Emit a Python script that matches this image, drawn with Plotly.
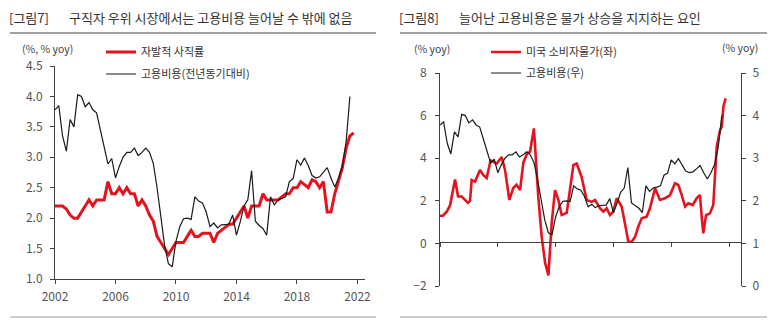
import plotly.graph_objects as go

W, H = 773, 323
def fx(px): return px / W
def fy(py): return 1 - py / H

FONT = "Noto Sans CJK KR"
RED = "#e5131d"
BLK = "#1a1a1a"
AX = "#404040"
TXT = "#555555"

# ---- data ----
# quarterly observations starting 2002Q1
eci_yoy = [3.78, 3.85, 3.35, 3.10, 3.62, 3.50, 4.03, 4.00, 3.83, 3.90, 3.78, 3.73,
           3.45, 3.15, 2.89, 2.98, 2.66, 2.85, 3.00, 3.08, 3.08, 3.15, 3.03, 3.08,
           3.15, 3.08, 2.90, 2.50, 2.00, 1.55, 1.25, 1.20, 1.62, 1.86, 1.99, 2.00,
           1.98, 2.35, 2.28, 2.25, 2.10, 1.86, 1.92, 1.84, 1.89, 1.90, 1.90, 2.05,
           1.72, 1.94, 2.20, 2.30, 2.78, 1.95, 1.88, 1.83, 1.72, 2.35, 2.22, 2.30,
           2.32, 2.35, 2.60, 2.65, 2.96, 2.87, 2.99, 2.86, 2.70, 2.66, 2.68, 2.75,
           2.83, 2.66, 2.51, 2.66, 2.85, 3.25, 4.00]
quit_rate = [2.2, 2.2, 2.2, 2.15, 2.05, 2.0, 2.0, 2.1, 2.2, 2.3, 2.2, 2.3,
             2.3, 2.3, 2.6, 2.4, 2.4, 2.5, 2.4, 2.5, 2.4, 2.4, 2.2, 2.3,
             2.2, 2.05, 1.95, 1.7, 1.6, 1.5, 1.4, 1.5, 1.6, 1.6, 1.6, 1.7,
             1.8, 1.7, 1.7, 1.75, 1.75, 1.75, 1.6, 1.75, 1.8, 1.85, 1.9, 1.9,
             2.0, 2.1, 2.2, 2.0, 2.2, 2.2, 2.2, 2.4, 2.3, 2.3, 2.3, 2.3,
             2.35, 2.4, 2.4, 2.5, 2.5, 2.6, 2.55, 2.5, 2.63, 2.6, 2.5, 2.6,
             2.1, 2.1, 2.4, 2.6, 2.83, 3.15, 3.35, 3.4]
quarters = [2002 + i / 4 for i in range(len(quit_rate))]

cpi_t = [2002.0, 2002.2, 2002.48, 2002.7, 2003.04, 2003.25, 2003.5, 2003.75, 2003.94, 2004.08,
         2004.19, 2004.42, 2004.77, 2005.0, 2005.23, 2005.5, 2005.74, 2005.92, 2006.27, 2006.5,
         2006.8, 2007.07, 2007.3, 2007.54, 2007.77, 2008.04, 2008.23, 2008.5, 2008.8, 2009.04,
         2009.27, 2009.5, 2009.73, 2009.96, 2010.19, 2010.42, 2010.77, 2011.0, 2011.23, 2011.46,
         2011.8, 2012.15, 2012.5, 2012.73, 2013.07, 2013.3, 2013.53, 2013.76, 2013.99, 2014.23,
         2014.57, 2014.8, 2015.03, 2015.27, 2015.5, 2015.72, 2015.96, 2016.3, 2016.53, 2016.88,
         2017.22, 2017.57, 2017.92, 2018.26, 2018.49, 2018.73, 2018.96, 2019.18, 2019.49, 2019.76,
         2019.99, 2020.11, 2020.22, 2020.41, 2020.68, 2020.91, 2021.03, 2021.15, 2021.38, 2021.5,
         2021.61, 2021.77]
cpi_yoy = [1.3, 1.3, 1.5, 1.8, 3.0, 2.2, 2.2, 2.0, 1.9, 2.0,
           2.98, 2.9, 3.45, 3.2, 3.07, 3.9, 3.8, 3.75, 4.05, 3.45,
           2.04, 2.6, 2.75, 2.5, 3.8, 4.23, 4.3, 5.4, 2.2, 0.3,
           -0.9, -1.5, 0.96, 2.5, 2.04, 1.33, 1.43, 2.5, 3.68, 3.75,
           3.12, 2.04, 1.95, 2.04, 1.65, 1.49, 1.65, 1.33, 1.49, 2.12,
           1.73, 0.94, 0.08, 0.08, 0.31, 0.78, 1.18, 1.25, 1.65, 2.59,
           2.04, 2.12, 2.27, 2.82, 2.74, 2.27, 1.73, 1.88, 1.8, 2.12,
           2.27, 1.25, 0.47, 1.33, 1.41, 1.8, 2.98, 4.54, 5.32, 5.48,
           6.42, 6.81]

year_ticks = [2002, 2006, 2010, 2014, 2018, 2022]

title7_tag = "[그림7]"
title7 = "구직자 우위 시장에서는 고용비용 늘어날 수 밖에 없음"
title8_tag = "[그림8]"
title8 = "늘어난 고용비용은 물가 상승을 지지하는 요인"
name_quit = "자발적 사직률"
name_eci_l = "고용비용(전년동기대비)"
name_cpi = "미국 소비자물가(좌)"
name_eci_r = "고용비용(우)"

fig = go.Figure()
fig.add_trace(go.Scatter(x=quarters, y=quit_rate, mode="lines", name=name_quit,
                         line=dict(color=RED, width=3), xaxis="x", yaxis="y", legend="legend"))
fig.add_trace(go.Scatter(x=quarters[:len(eci_yoy)], y=eci_yoy, mode="lines", name=name_eci_l,
                         line=dict(color=BLK, width=1.2), xaxis="x", yaxis="y", legend="legend2"))
fig.add_trace(go.Scatter(x=cpi_t, y=cpi_yoy, mode="lines", name=name_cpi,
                         line=dict(color=RED, width=2.6), xaxis="x2", yaxis="y2", legend="legend3"))
fig.add_trace(go.Scatter(x=quarters[:len(eci_yoy)], y=eci_yoy, mode="lines", name=name_eci_r,
                         line=dict(color=BLK, width=1.2), xaxis="x2", yaxis="y3", legend="legend4"))

tickfont = dict(family=FONT, size=12, color=TXT)
common = dict(showgrid=False, zeroline=False, showline=True, linecolor=AX, linewidth=1,
              ticks="outside", ticklen=4, tickcolor=AX, tickfont=tickfont, automargin=False)

leg = lambda px, py: dict(x=fx(px), y=fy(py), xanchor="left", yanchor="middle",
                          bgcolor="rgba(0,0,0,0)", borderwidth=0,
                          font=dict(family=FONT, size=11, color="#333"), itemwidth=30)

fig.update_layout(
    template="none",
    width=W, height=H, margin=dict(l=0, r=0, t=0, b=0, autoexpand=False),
    paper_bgcolor="white", plot_bgcolor="white",
    font=dict(family=FONT),
    xaxis=dict(domain=[fx(55), fx(365)], range=[2002, 2022.5], anchor="y",
               tickvals=year_ticks, ticklabelstandoff=3, **common),
    yaxis=dict(domain=[fy(279), fy(66)], range=[1.0, 4.5], dtick=0.5, tickformat=".1f",
               anchor="x", ticklabelstandoff=5, **common),
    xaxis2=dict(domain=[fx(440), fx(741)], range=[2002, 2022.83], anchor="free",
                position=fy(242), tickvals=year_ticks, showticklabels=False, **common),
    xaxis3=dict(domain=[fx(440), fx(741)], range=[2002, 2022.83], anchor="y2",
                overlaying="x2", tickvals=year_ticks, showgrid=False, zeroline=False,
                showline=False, ticks="", tickfont=tickfont, automargin=False,
                ticklabelstandoff=8),
    yaxis2=dict(domain=[fy(286), fy(73)], range=[-2, 8], dtick=2, anchor="x2",
                ticklabelstandoff=6, **common),
    yaxis3=dict(domain=[fy(286), fy(73)], range=[0, 5], dtick=1, anchor="x2",
                overlaying="y2", side="right", ticklabelstandoff=4, **common),
    legend=leg(101, 52), legend2=leg(101, 74),
    legend3=leg(486, 52), legend4=leg(486, 73),
    showlegend=True,
)

ann_font = dict(family=FONT, size=13, color="#333")
small = dict(family=FONT, size=10.5, color="#444")
anns = [
    dict(text=title7_tag, x=fx(7), y=fy(18), font=ann_font),
    dict(text=title7, x=fx(67), y=fy(18), font=ann_font),
    dict(text=title8_tag, x=fx(397), y=fy(18), font=ann_font),
    dict(text=title8, x=fx(457), y=fy(18), font=ann_font),
    dict(text="(%, % yoy)", x=fx(20), y=fy(49), font=small),
    dict(text="(% yoy)", x=fx(412), y=fy(49), font=small),
    dict(text="(% yoy)", x=fx(720), y=fy(48), font=small),
]
for a in anns:
    fig.add_annotation(xref="paper", yref="paper", xanchor="left", yanchor="middle",
                       showarrow=False, **a)

for x0, x1 in [(10, 376), (400, 767)]:
    fig.add_shape(type="line", xref="paper", yref="paper", x0=fx(x0), x1=fx(x1),
                  y0=fy(33), y1=fy(33), line=dict(color="#444", width=1))
    fig.add_shape(type="line", xref="paper", yref="paper", x0=fx(x0), x1=fx(x1),
                  y0=fy(317), y1=fy(317), line=dict(color="#999", width=1))

fig.write_html("out.html")
